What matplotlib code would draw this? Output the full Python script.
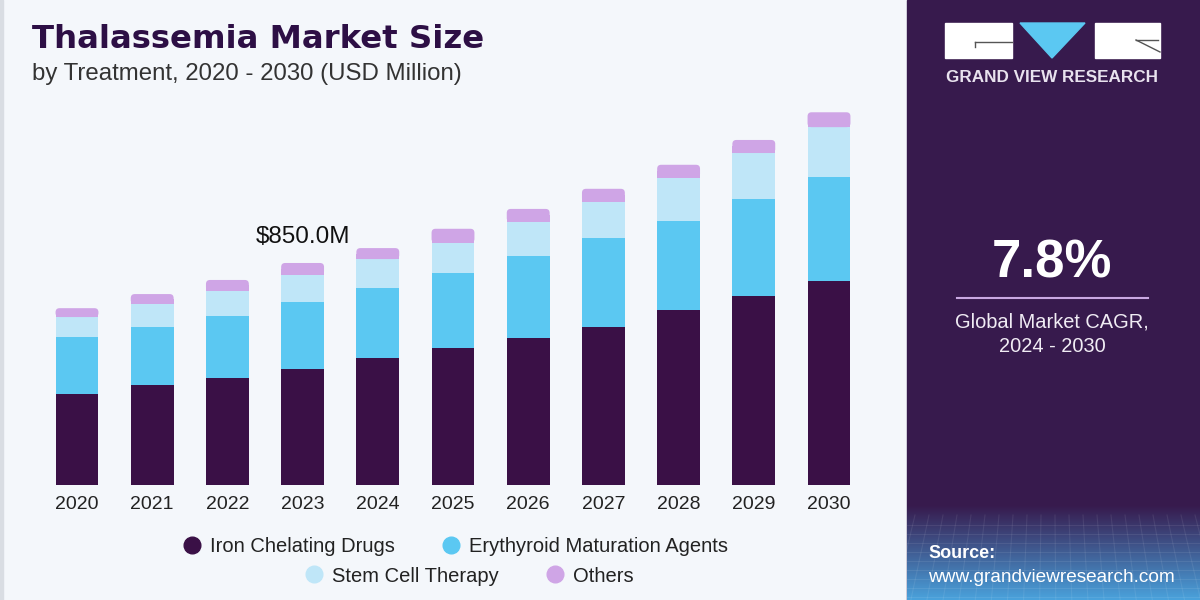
import matplotlib
matplotlib.use("Agg")
import matplotlib.pyplot as plt
import numpy as np
from matplotlib.patches import Rectangle, Polygon, FancyBboxPatch
from matplotlib.lines import Line2D

plt.rcParams['font.family'] = ['Liberation Sans', 'DejaVu Sans']

years = ['2020', '2021', '2022', '2023', '2024', '2025', '2026', '2027', '2028', '2029', '2030']
iron = [348, 383, 410, 444, 486, 525, 563, 605, 670, 724, 781]
erythroid = [218, 222, 237, 257, 268, 287, 314, 341, 341, 371, 398]
stem_cell = [77, 88, 96, 103, 111, 115, 130, 138, 165, 176, 191]
others = [34, 38, 42, 46, 42, 54, 50, 50, 50, 50, 57]
series_names = ['Iron Chelating Drugs', 'Erythyroid Maturation Agents', 'Stem Cell Therapy', 'Others']
colors = ['#3a1046', '#5bc8f2', '#bfe6f8', '#cfa5e6']
callout_year = '2023'
callout_text = '$850.0M'

W, H = 1200, 600
fig = plt.figure(figsize=(12, 6), dpi=100)
fig.patch.set_facecolor('#f4f7fb')

# background layer in pixel coords
bg = fig.add_axes([0, 0, 1, 1], zorder=0)
bg.set_xlim(0, W)
bg.set_ylim(H, 0)
bg.axis('off')
bg.add_patch(Rectangle((0, 0), 3, H, color='#d9dde3'))
panel = '#371a4d'
bg.add_patch(Rectangle((907, 0), W - 907, H, color=panel))

# gradient at the bottom of the panel
grad = np.linspace(0, 1, 100)[:, None]
c0 = np.array(matplotlib.colors.to_rgb(panel))
c1 = np.array(matplotlib.colors.to_rgb('#4aa2dc'))
img = c0[None, None, :] * (1 - grad[..., None]) + c1[None, None, :] * grad[..., None]
img = np.repeat(img, 2, axis=1)
bg.imshow(img, extent=[907, W, 600, 505], aspect='auto', zorder=1)
for gx in np.arange(915, W, 14):
    bg.plot([gx, gx + (gx - 1050) * 0.15], [515, 600], color='white', alpha=0.08, lw=0.8, zorder=2)
for gy in np.arange(525, 600, 9):
    bg.plot([907, W], [gy, gy], color='white', alpha=0.08, lw=0.8, zorder=2)

# logo
bg.add_patch(Rectangle((945, 23), 67, 35, color='white', zorder=3))
bg.plot([975, 1012], [42, 42], color='#555555', lw=1, zorder=4)
bg.plot([975, 975], [42, 47], color='#555555', lw=1, zorder=4)
bg.add_patch(Polygon([[1020, 23], [1085, 23], [1052, 58]], closed=True, color='#5bc8f2', zorder=3))
bg.add_patch(Rectangle((1095, 23), 65, 35, color='white', zorder=3))
bg.plot([1136, 1160], [40, 52], color='#555555', lw=1, zorder=4)
bg.plot([1136, 1158], [40, 40], color='#555555', lw=1, zorder=4)
bg.text(1052, 78, 'GRAND VIEW RESEARCH', color='#e8e2ee', fontsize=12.3, fontweight='bold',
        ha='center', va='center', zorder=4)

# CAGR block
bg.text(1052, 263, '7.8%', color='white', fontsize=38, fontweight='bold', ha='center', va='center', zorder=4)
bg.plot([957, 1148], [298, 298], color='#c9a8e2', lw=1.5, zorder=4)
bg.text(1052, 322, 'Global Market CAGR,', color='#f0ecf4', fontsize=14.4, ha='center', va='center', zorder=4)
bg.text(1052, 346, '2024 - 2030', color='#f0ecf4', fontsize=14.4, ha='center', va='center', zorder=4)

# source
bg.text(928, 553, 'Source:', color='white', fontsize=13, fontweight='bold', ha='left', va='center', zorder=4)
bg.text(928, 577, 'www.grandviewresearch.com', color='white', fontsize=13.7, ha='left', va='center', zorder=4)

# titles
bg.text(32, 40, 'Thalassemia Market Size', color='#2d0f45', fontsize=23.3, fontweight='heavy',
        family='DejaVu Sans', ha='left', va='center', zorder=4)
bg.text(32, 74, 'by Treatment, 2020 - 2030 (USD Million)', color='#333333', fontsize=17.3,
        ha='left', va='center', zorder=4)

# main chart
ax = fig.add_axes([39.4 / W, 1 - 485 / H, (866.6 - 39.4) / W, (485 - 100) / H], zorder=1)
ax.set_facecolor('none')
x = np.arange(len(years))
bottom = np.zeros(len(years))
ymax = 1474
for vals, col, name in zip([iron, erythroid, stem_cell, others], colors, series_names):
    bars = ax.bar(x, vals, width=0.57, bottom=bottom, color=col, label=name, linewidth=0)
    bottom += np.array(vals)
# rounded caps on the top segment
px_x = 1.0 / 75.2
px_y = ymax / 385.0
for rect in bars:
    bx, by, bw, bh = rect.get_x(), rect.get_y(), rect.get_width(), rect.get_height()
    ax.add_patch(FancyBboxPatch((bx, by), bw, bh, boxstyle='round,pad=0,rounding_size=%f' % (4 * px_x),
                                mutation_aspect=px_y / px_x, color=rect.get_facecolor(), linewidth=0))
    rect.set_height(bh / 2)
ax.set_xlim(-0.5, len(years) - 0.5)
ax.set_ylim(0, ymax)
ax.set_xticks(x)
ax.set_xticklabels(years, fontsize=14, color='#222222')
ax.tick_params(axis='x', length=0, pad=8)
ax.set_yticks([])
for s in ax.spines.values():
    s.set_visible(False)

ci = years.index(callout_year)
ax.annotate(callout_text, (ci, bottom[ci]), xytext=(0, 19), textcoords='offset points',
            ha='center', va='center', fontsize=17.5, color='#111111')

# legend, two centred rows
handles = [Line2D([], [], marker='o', ls='', markersize=12, color=c) for c in colors]
leg_kw = dict(loc='center', ncol=2, frameon=False, fontsize=14.5, handletextpad=0.3,
              columnspacing=2.2, handlelength=1.2)
leg1 = fig.legend(handles[:2], series_names[:2], bbox_to_anchor=(454 / W, 1 - 547 / H), **leg_kw)
leg2 = fig.legend(handles[2:], series_names[2:], bbox_to_anchor=(468 / W, 1 - 576 / H), **leg_kw)
for leg in (leg1, leg2):
    for t in leg.get_texts():
        t.set_color('#222222')

fig.savefig('out.png', dpi=100, facecolor=fig.get_facecolor())
